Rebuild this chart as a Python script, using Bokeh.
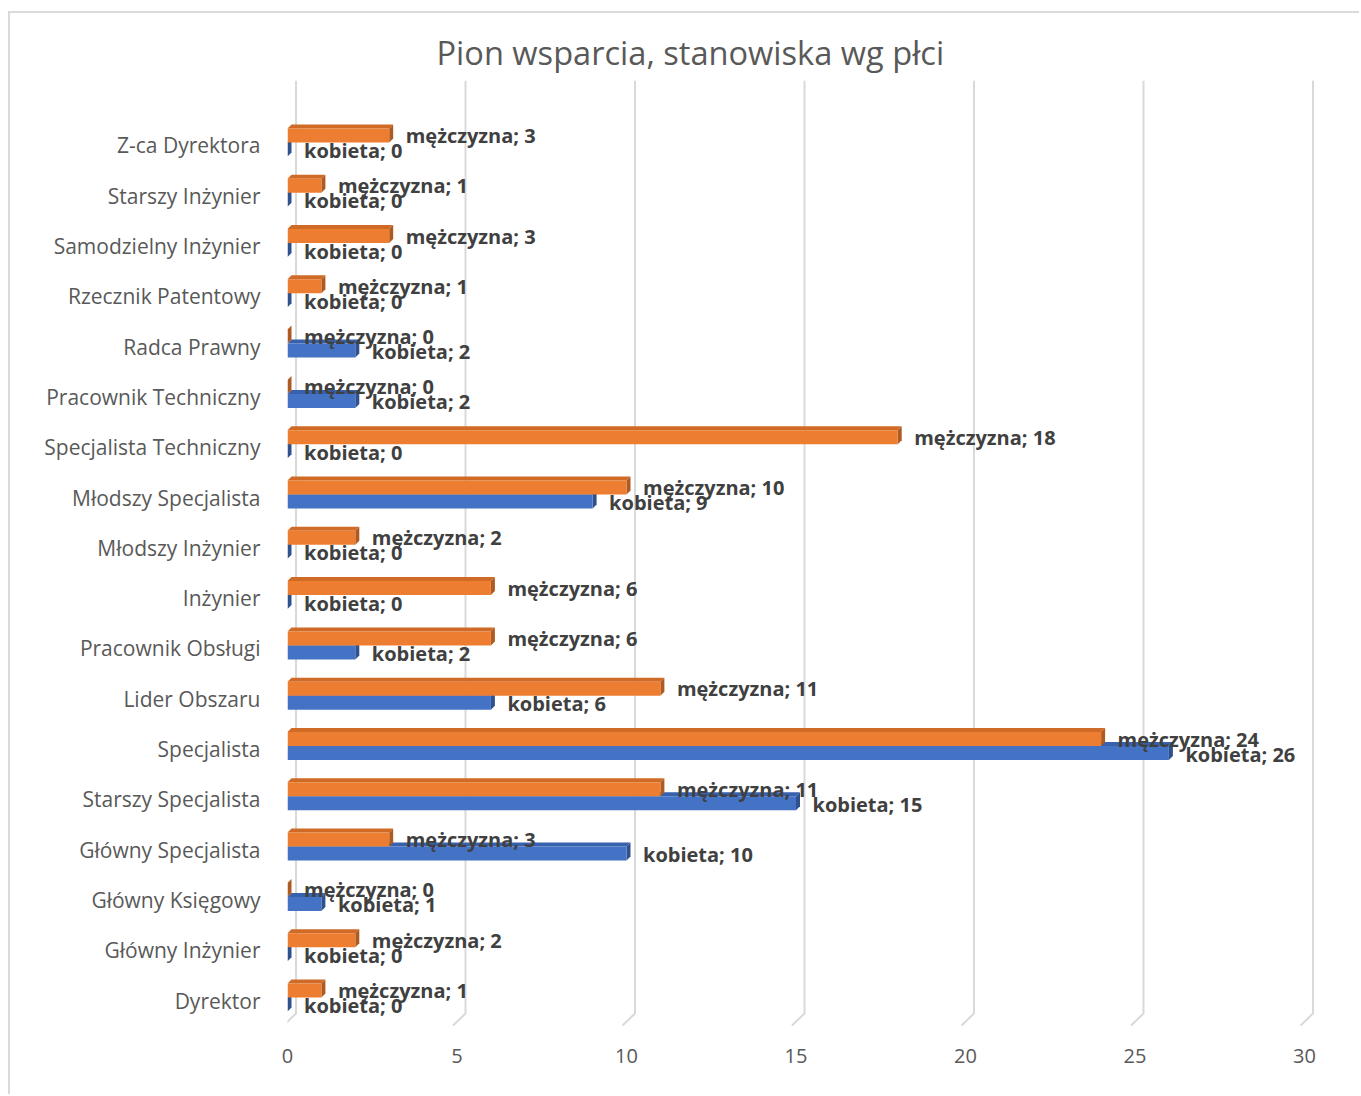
from bokeh.plotting import figure
from bokeh.models import Range1d, FixedTicker, ColumnDataSource, Title
from bokeh.embed import file_html
from bokeh.resources import INLINE
from bokeh.core.properties import value

# ---- data ----
categories = ["Dyrektor", "Główny Inżynier", "Główny Księgowy", "Główny Specjalista",
              "Starszy Specjalista", "Specjalista", "Lider Obszaru", "Pracownik Obsługi",
              "Inżynier", "Młodszy Inżynier", "Młodszy Specjalista", "Specjalista Techniczny",
              "Pracownik Techniczny", "Radca Prawny", "Rzecznik Patentowy",
              "Samodzielny Inżynier", "Starszy Inżynier", "Z-ca Dyrektora"]
mezczyzna = [1, 2, 0, 3, 11, 24, 11, 6, 6, 2, 10, 18, 0, 0, 1, 3, 1, 3]
kobieta = [0, 0, 1, 10, 15, 26, 6, 2, 0, 0, 9, 0, 2, 2, 0, 0, 0, 0]
x_ticks = [0, 5, 10, 15, 20, 25, 30]
series_names = ["mężczyzna", "kobieta"]
title_text = "Pion wsparcia, stanowiska wg płci"

# ---- geometry (pixels per unit) ----
PX_X = 33.9
PX_Y = 50.3
DX = 4 / PX_X
DY = 4 / PX_Y

FRAME_W = 1043
FRAME_H = 950
FIG_W = 1351
FIG_H = 1083
ML, MT = 277, 67

p = figure(width=FIG_W, height=FIG_H, output_backend="svg", toolbar_location=None,
           x_range=Range1d(0, FRAME_W / PX_X), y_range=Range1d(-0.596, -0.596 + FRAME_H / PX_Y),
           min_border_left=ML, min_border_top=MT,
           min_border_right=FIG_W - ML - FRAME_W, min_border_bottom=FIG_H - MT - FRAME_H,
           margin=(11, 0, 0, 8))
p.styles = {"border-top": "2px solid #d9d9d9", "border-left": "2px solid #d9d9d9"}
p.outline_line_color = None
p.background_fill_color = "white"
p.border_fill_color = "white"
p.xgrid.visible = False
p.ygrid.visible = False

t = Title(text=title_text, align="left", offset=149, text_font="Open Sans",
          text_font_size="32.6px", text_color="#595959", text_font_style="normal", standoff=12)
p.add_layout(t, "above")

n = len(categories)
idx = list(range(n))

# ---- gridlines (3D style: vertical on back wall, slanted floor) ----
y_top = -0.596 + FRAME_H / PX_Y
y_lo = -0.497
gx = [[v - 4 / PX_X, v + 8.5 / PX_X, v + 8.5 / PX_X] for v in x_ticks]
gy = [[y_lo, y_lo + 12 / PX_Y, y_top] for _ in x_ticks]
p.multi_line(gx, gy, line_color="#d9d9d9", line_width=2)

# ---- bars ----
def bar3d(vals, yc, h, face, top, side):
    ytop = [i + yc + h / 2 for i in idx]
    ybot = [i + yc - h / 2 for i in idx]
    top_xs = [[0, v, v + DX, DX] for v in vals]
    top_ys = [[yt, yt, yt + DY, yt + DY] for yt in ytop]
    side_xs = [[v, v + DX, v + DX, v] for v in vals]
    side_ys = [[yb, yb + DY, yt + DY, yt] for yb, yt in zip(ybot, ytop)]
    p.patches(top_xs, top_ys, fill_color=top, line_color=None)
    p.patches(side_xs, side_ys, fill_color=side, line_color=None)
    p.hbar(y=[i + yc for i in idx], height=h, left=0, right=vals,
           fill_color=face, line_color=None)

H = 14 / PX_Y
bar3d(kobieta, -0.0795, H, "#4472c4", "#3761ad", "#2f528f")
bar3d(mezczyzna, 0.199, H, "#ed7d31", "#cf6b26", "#ae5a21")

# ---- data labels ----
OFF = 16.5 / PX_X
src_m = ColumnDataSource(dict(x=[v + OFF for v in mezczyzna], y=[i + 10 / PX_Y for i in idx],
                              t=[f"{series_names[0]}; {v}" for v in mezczyzna]))
src_k = ColumnDataSource(dict(x=[v + OFF for v in kobieta], y=[i - 5 / PX_Y for i in idx],
                              t=[f"{series_names[1]}; {v}" for v in kobieta]))
for s in (src_k, src_m):
    p.text(x="x", y="y", text="t", source=s, text_font=value("Open Sans"),
           text_font_style="bold", text_font_size="20px", text_color="#404040",
           text_baseline="middle", text_align="left")

# ---- axes ----
p.xaxis.ticker = FixedTicker(ticks=x_ticks)
p.xaxis.axis_line_color = None
p.xaxis.major_tick_line_color = None
p.xaxis.minor_tick_line_color = None
p.xaxis.major_label_text_font = "Open Sans"
p.xaxis.major_label_text_font_size = "20px"
p.xaxis.major_label_text_color = "#595959"
p.xaxis.major_label_standoff = 12

p.yaxis.ticker = FixedTicker(ticks=idx)
p.yaxis.major_label_overrides = {i: c for i, c in zip(idx, categories)}
p.yaxis.axis_line_color = None
p.yaxis.major_tick_line_color = None
p.yaxis.minor_tick_line_color = None
p.yaxis.major_tick_out = 0
p.yaxis.major_label_text_font = "Open Sans"
p.yaxis.major_label_text_font_size = "21px"
p.yaxis.major_label_text_color = "#595959"
p.yaxis.major_label_standoff = 27

open("out.html", "w").write(file_html(p, INLINE))
